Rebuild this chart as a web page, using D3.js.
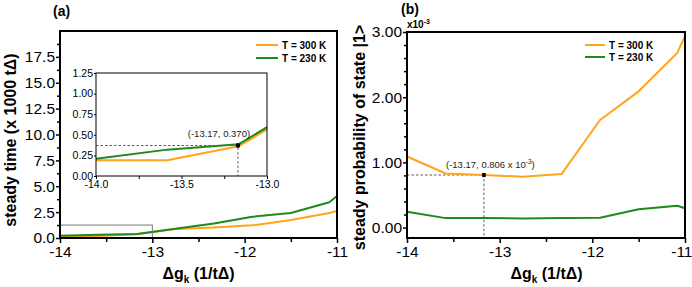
<!DOCTYPE html>
<html>
<head>
<meta charset="utf-8">
<script src="https://cdn.jsdelivr.net/npm/d3@7"></script>
<style>
body { margin: 0; background: #fff; }
svg { font-family: "Liberation Sans", Arial, sans-serif; }
</style>
</head>
<body>
<svg id="chart" width="692" height="287"></svg>
<script>
// values
var dg = [-14, -13.583, -13.167, -12.75, -12.333, -11.917, -11.5, -11.083, -11];
var timeT300 = [0.19, 0.19, 0.36, 0.87, 1.02, 1.22, 1.74, 2.42, 2.62];
var timeT230 = [0.21, 0.32, 0.385, 0.90, 1.40, 2.05, 2.42, 3.45, 4.05];
var probT300 = [1.09, 0.83, 0.806, 0.78, 0.82, 1.65, 2.09, 2.68, 2.94];
var probT230 = [0.244, 0.145, 0.145, 0.14, 0.145, 0.15, 0.28, 0.335, 0.296];

var markA = [-13.17, 0.370];
var markB = [-13.17, 0.806];

var legendLabels = ["T = 300 K", "T = 230 K"];
var colors = ["#ffa41b", "#1c8a1c"];

var xTicks = [-14, -13, -12, -11];
var xMinor = [-13.5, -12.5, -11.5];
var timeTicks = [0, 2.5, 5, 7.5, 10, 12.5, 15, 17.5];
var timeMinor = [1.25, 3.75, 6.25, 8.75, 11.25, 13.75, 16.25, 18.75];
var insetXTicks = [-14, -13.5, -13];
var insetXMinor = [-13.75, -13.25];
var insetYTicks = [0, 0.25, 0.5, 0.75, 1, 1.25];
var probTicks = [0, 1, 2, 3];
var probMinor = [0.2, 0.4, 0.6, 0.8, 1.2, 1.4, 1.6, 1.8, 2.2, 2.4, 2.6, 2.8];

var svg = d3.select("#chart");

function series(ys) {
	return dg.map(function(d, i) { return [d, ys[i]]; });
}

function ticks(g, axis, fontSize) {
	g.call(axis);
	g.select(".domain").remove();
	g.selectAll("text").style("font-size", fontSize + "px").attr("fill", "#000");
	g.selectAll("line").attr("stroke", "#000");
}

function frame(g, x, y, sw) {
	g.append("rect")
	.attr("x", x.range()[0]).attr("y", y.range()[1])
	.attr("width", x.range()[1] - x.range()[0])
	.attr("height", y.range()[0] - y.range()[1])
	.attr("fill", "none").attr("stroke", "#000").attr("stroke-width", sw);
}

function lines(g, x, y, data, clipId) {
	var line = d3.line()
	.x(function(d) { return x(d[0]); })
	.y(function(d) { return y(d[1]); });
	data.forEach(function(d, i) {
		var p = g.append("path")
		.attr("d", line(series(d)))
		.attr("fill", "none")
		.attr("stroke", colors[i])
		.attr("stroke-width", 2)
		.attr("stroke-linejoin", "round");
		if (clipId) p.attr("clip-path", "url(#" + clipId + ")");
	});
}

function legend(g, x0, x1, y0, dy) {
	legendLabels.forEach(function(t, i) {
		g.append("line")
		.attr("x1", x0).attr("x2", x1)
		.attr("y1", y0 + i * dy).attr("y2", y0 + i * dy)
		.attr("stroke", colors[i]).attr("stroke-width", 2);
		g.append("text")
		.attr("x", x1 + 4).attr("y", y0 + i * dy + 3.6)
		.style("font-size", "10px").style("font-weight", "bold")
		.text(t);
	});
}

function marker(g, x, y, m) {
	g.append("path")
	.attr("d", "M" + x.range()[0] + "," + y(m[1]) + "H" + x(m[0]) + "V" + y.range()[0])
	.attr("fill", "none").attr("stroke", "#333").attr("stroke-width", 0.8)
	.attr("stroke-dasharray", "2.5,2");
	g.append("circle")
	.attr("cx", x(m[0])).attr("cy", y(m[1])).attr("r", 2.2).attr("fill", "#000");
}

function xTitle(g, cx) {
	var t = g.append("text")
	.attr("x", cx).attr("y", 279)
	.attr("text-anchor", "middle")
	.style("font-size", "16px").style("font-weight", "bold");
	t.append("tspan").text("\u0394g");
	t.append("tspan").attr("dy", 4).style("font-size", "10px").text("k");
	t.append("tspan").attr("dy", -4).text(" (1/t\u0394)");
}

function yTitle(g, x, cy, label) {
	g.append("text")
	.attr("transform", "translate(" + x + "," + cy + ") rotate(-90)")
	.attr("text-anchor", "middle")
	.style("font-size", "16px").style("font-weight", "bold")
	.text(label);
}

function fmt(n) {
	return function(d) { return d.toFixed(n); };
}

// ---- panel (a)
var ga = svg.append("g");
var xa = d3.scaleLinear().domain([-14, -11]).range([60, 337]);
var ya = d3.scaleLinear().domain([0, 20]).range([238, 31]);

lines(ga, xa, ya, [timeT300, timeT230]);

ga.append("rect")
.attr("x", xa(-14)).attr("y", ya(1.25))
.attr("width", xa(-13) - xa(-14)).attr("height", ya(0) - ya(1.25))
.attr("fill", "none").attr("stroke", "#777").attr("stroke-width", 1);

frame(ga, xa, ya, 2);

ga.append("g").attr("transform", "translate(0,238)")
.call(ticks, d3.axisBottom(xa).tickValues(xTicks).tickSize(5).tickPadding(3).tickFormat(String), 15.5);
ga.append("g").attr("transform", "translate(0,238)")
.call(ticks, d3.axisBottom(xa).tickValues(xMinor).tickSize(4).tickFormat(""), 15);
ga.append("g").attr("transform", "translate(60,0)")
.call(ticks, d3.axisLeft(ya).tickValues(timeTicks).tickSize(4).tickPadding(1).tickFormat(fmt(1)), 15.5);
ga.append("g").attr("transform", "translate(60,0)")
.call(ticks, d3.axisLeft(ya).tickValues(timeMinor).tickSize(3).tickFormat(""), 15);
ga.selectAll(".tick line").attr("stroke-width", 1.5);

legend(ga, 256, 278, 45, 13);

// inset
var xi = d3.scaleLinear().domain([-14, -13]).range([96, 267]);
var yi = d3.scaleLinear().domain([0, 1.25]).range([176, 73]);
var gi = ga.append("g");

gi.append("clipPath").attr("id", "insetClip")
.append("rect").attr("x", 96).attr("y", 73).attr("width", 171).attr("height", 103);

gi.append("rect").attr("x", 96).attr("y", 73).attr("width", 171).attr("height", 103).attr("fill", "#fff");
marker(gi, xi, yi, markA);
lines(gi, xi, yi, [timeT300, timeT230], "insetClip");
gi.append("circle").attr("cx", xi(markA[0])).attr("cy", yi(markA[1])).attr("r", 2.2).attr("fill", "#000");
frame(gi, xi, yi, 1);

gi.append("g").attr("transform", "translate(0,176)")
.call(ticks, d3.axisBottom(xi).tickValues(insetXTicks).tickSize(3).tickPadding(2).tickFormat(fmt(1)), 10.5);
gi.append("g").attr("transform", "translate(0,176)")
.call(ticks, d3.axisBottom(xi).tickValues(insetXMinor).tickSize(3).tickFormat(""), 10);
gi.append("g").attr("transform", "translate(96,0)")
.call(ticks, d3.axisLeft(yi).tickValues(insetYTicks).tickSize(2).tickPadding(1).tickFormat(fmt(2)), 10.5);

gi.append("text")
.attr("x", xi(markA[0]) - 19).attr("y", 137)
.attr("text-anchor", "middle")
.style("font-size", "9.5px").attr("fill", "#222")
.text("(" + markA[0].toFixed(2) + ", " + markA[1].toFixed(3) + ")");

xTitle(ga, 198.5);
yTitle(ga, 16, 140, "steady time (x 1000 t\u0394)");
ga.append("text").attr("x", 53).attr("y", 16)
.style("font-size", "14px").style("font-weight", "bold").text("(a)");

// ---- panel (b)
var gb = svg.append("g");
var xb = d3.scaleLinear().domain([-14, -11]).range([407, 685]);
var yb = d3.scaleLinear().domain([-0.16, 3.0]).range([238, 32]);

marker(gb, xb, yb, markB);
lines(gb, xb, yb, [probT300, probT230]);
gb.append("circle").attr("cx", xb(markB[0])).attr("cy", yb(markB[1])).attr("r", 2).attr("fill", "#000");
frame(gb, xb, yb, 2);

var bx = gb.append("g").attr("transform", "translate(0,238)");
bx.call(ticks, d3.axisBottom(xb).tickValues(xTicks).tickSize(5).tickPadding(3).tickFormat(String), 15.5);
// last label sits against the page edge, as in the figure
bx.selectAll(".tick text").filter(function(d) { return d === -11; }).attr("text-anchor", "end").attr("dx", 7);
gb.append("g").attr("transform", "translate(0,238)")
.call(ticks, d3.axisBottom(xb).tickValues(xMinor).tickSize(4).tickFormat(""), 15);
gb.append("g").attr("transform", "translate(407,0)")
.call(ticks, d3.axisLeft(yb).tickValues(probTicks).tickSize(4).tickPadding(1).tickFormat(fmt(2)), 15.5);
gb.append("g").attr("transform", "translate(407,0)")
.call(ticks, d3.axisLeft(yb).tickValues(probMinor).tickSize(3).tickFormat(""), 15);
gb.selectAll(".tick line").attr("stroke-width", 1.5);

legend(gb, 585, 605, 45, 12);

var tb = gb.append("text")
.attr("x", 446).attr("y", 168)
.style("font-size", "9.5px").attr("fill", "#222");
tb.append("tspan").text("(" + markB[0].toFixed(2) + ", " + markB[1].toFixed(3) + " x 10");
tb.append("tspan").attr("dy", -4).style("font-size", "6.5px").text("-3");
tb.append("tspan").attr("dy", 4).text(")");

var te = gb.append("text")
.attr("x", 407).attr("y", 28)
.style("font-size", "10px").style("font-weight", "bold");
te.append("tspan").text("x10");
te.append("tspan").attr("dy", -4).style("font-size", "7px").text("-3");

xTitle(gb, 546.5);
yTitle(gb, 365, 137.5, "steady probability of state |1>");
gb.append("text").attr("x", 401).attr("y", 14)
.style("font-size", "14px").style("font-weight", "bold").text("(b)");
</script>
</body>
</html>
